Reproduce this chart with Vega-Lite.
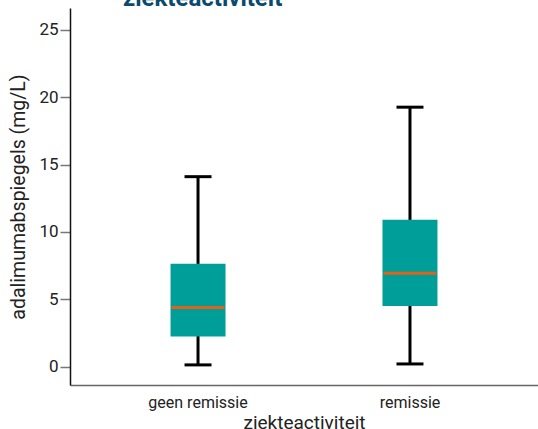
{
  "$schema": "https://vega.github.io/schema/vega-lite/v6.json",
  "autosize": {"type": "none"},
  "width": 468,
  "height": 377,
  "padding": {"left": 70, "top": 8, "right": 0, "bottom": 44},
  "background": "white",
  "config": {
    "view": {"stroke": null},
    "font": "Roboto",
    "axis": {"grid": false, "labelFont": "Roboto", "titleFont": "Roboto", "titleFontWeight": "normal", "labelColor": "#222", "titleColor": "#222"}
  },
  "title": {
    "text": "ziekteactiviteit",
    "anchor": "start",
    "frame": "group",
    "dx": 53,
    "baseline": "alphabetic",
    "offset": -22,
    "fontSize": 24,
    "fontWeight": "bold",
    "color": "#0b4a6f",
    "font": "Roboto"
  },
  "data": {
    "values": [
      {"groep": "geen remissie", "min": 0.15, "q1": 2.25, "median": 4.4, "q3": 7.64, "max": 14.1},
      {"groep": "remissie", "min": 0.22, "q1": 4.52, "median": 6.95, "q3": 10.9, "max": 19.25}
    ]
  },
  "encoding": {
    "x": {
      "field": "groep",
      "type": "nominal",
      "sort": ["geen remissie", "remissie"],
      "scale": {"type": "band", "paddingInner": 0, "paddingOuter": 0.104},
      "axis": {
        "title": "ziekteactiviteit",
        "labelAngle": 0,
        "labelFontSize": 16,
        "titleFontSize": 19,
        "ticks": false,
        "domainColor": "#666",
        "domainWidth": 1.5,
        "labelPadding": 9,
        "titlePadding": 3
      }
    }
  },
  "layer": [
    {
      "mark": {"type": "rule", "color": "black", "strokeWidth": 3},
      "encoding": {
        "y": {
          "field": "min",
          "type": "quantitative",
          "scale": {"domain": [-1.34, 26.6], "nice": false, "zero": false},
          "axis": {
            "title": "adalimumabspiegels (mg/L)",
            "values": [0, 5, 10, 15, 20, 25],
            "labelFontSize": 17,
            "titleFontSize": 19.5,
            "tickSize": 10,
            "tickColor": "#777",
            "tickWidth": 1.5,
            "domainColor": "#111",
            "domainWidth": 1.5,
            "labelPadding": 2,
            "titlePadding": 10
          }
        },
        "y2": {"field": "max"}
      }
    },
    {
      "mark": {"type": "tick", "color": "black", "size": 27, "thickness": 3, "opacity": 1},
      "encoding": {"y": {"field": "min", "type": "quantitative"}}
    },
    {
      "mark": {"type": "tick", "color": "black", "size": 27, "thickness": 3, "opacity": 1},
      "encoding": {"y": {"field": "max", "type": "quantitative"}}
    },
    {
      "mark": {"type": "bar", "color": "#009e98", "size": 55},
      "encoding": {"y": {"field": "q1", "type": "quantitative"}, "y2": {"field": "q3"}}
    },
    {
      "mark": {"type": "tick", "color": "#e2601a", "size": 53, "thickness": 3, "opacity": 1},
      "encoding": {"y": {"field": "median", "type": "quantitative"}}
    }
  ]
}
